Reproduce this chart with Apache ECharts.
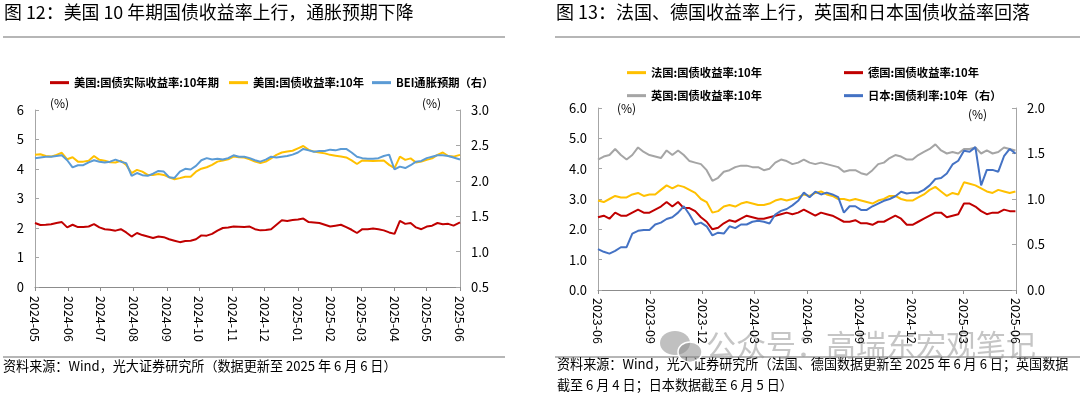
<!DOCTYPE html>
<html>
<head>
<meta charset="utf-8">
<script src="https://cdn.jsdelivr.net/npm/echarts@6/dist/echarts.min.js"></script>
<style>
html,body{margin:0;padding:0;background:#fff;}
#chart{width:1080px;height:396px;}
</style>
</head>
<body>
<div id="chart"></div>
<script>
// ---------- Figure 12 (left) ----------
const leftDates = ['2024-05-06','2024-05-11','2024-05-16','2024-05-21','2024-05-26','2024-05-31','2024-06-05','2024-06-10','2024-06-15','2024-06-20',
'2024-06-25','2024-06-30','2024-07-05','2024-07-10','2024-07-15','2024-07-20','2024-07-25','2024-07-30','2024-08-04','2024-08-09',
'2024-08-14','2024-08-19','2024-08-24','2024-08-29','2024-09-03','2024-09-08','2024-09-13','2024-09-18','2024-09-23','2024-09-28',
'2024-10-03','2024-10-08','2024-10-13','2024-10-18','2024-10-23','2024-10-28','2024-11-02','2024-11-07','2024-11-12','2024-11-17',
'2024-11-22','2024-11-27','2024-12-02','2024-12-07','2024-12-12','2024-12-17','2024-12-22','2024-12-27','2025-01-01','2025-01-06',
'2025-01-11','2025-01-16','2025-01-21','2025-01-26','2025-01-31','2025-02-05','2025-02-10','2025-02-15','2025-02-20','2025-02-25',
'2025-03-02','2025-03-07','2025-03-12','2025-03-17','2025-03-22','2025-03-27','2025-04-01','2025-04-06','2025-04-11','2025-04-16',
'2025-04-21','2025-04-26','2025-05-01','2025-05-06','2025-05-11','2025-05-16','2025-05-21','2025-05-26','2025-05-31','2025-06-06'];
const usRealYield = [2.17,2.10,2.11,2.13,2.17,2.20,2.02,2.11,2.03,2.03,
2.05,2.13,2.02,1.96,1.94,1.91,1.96,1.85,1.71,1.83,
1.76,1.71,1.66,1.71,1.69,1.62,1.57,1.52,1.56,1.57,
1.62,1.75,1.74,1.80,1.91,2.00,2.02,2.05,2.04,2.03,
2.05,1.96,1.92,1.93,1.96,2.11,2.26,2.24,2.27,2.29,
2.32,2.20,2.19,2.17,2.11,2.05,2.08,2.11,2.03,1.94,
1.83,1.96,1.96,1.98,1.96,1.92,1.85,1.80,2.24,2.14,
2.17,2.02,1.96,2.05,2.08,2.17,2.13,2.14,2.08,2.19];
const usNominal = [4.48,4.50,4.44,4.42,4.48,4.55,4.33,4.40,4.25,4.25,
4.28,4.44,4.31,4.28,4.23,4.22,4.28,4.14,3.86,3.97,
3.91,3.80,3.80,3.83,3.80,3.72,3.65,3.69,3.74,3.74,
3.91,4.01,4.06,4.14,4.25,4.29,4.33,4.42,4.40,4.39,
4.33,4.25,4.20,4.25,4.36,4.48,4.56,4.59,4.62,4.70,
4.78,4.65,4.59,4.56,4.53,4.48,4.45,4.42,4.39,4.29,
4.17,4.29,4.28,4.27,4.28,4.29,4.14,4.03,4.42,4.31,
4.36,4.22,4.25,4.31,4.36,4.48,4.56,4.44,4.42,4.48];
const beiRight = [2.32,2.33,2.34,2.34,2.35,2.36,2.29,2.19,2.22,2.22,
2.26,2.29,2.27,2.26,2.27,2.30,2.27,2.25,2.07,2.11,
2.08,2.07,2.10,2.14,2.13,2.05,2.04,2.13,2.17,2.16,
2.21,2.29,2.32,2.30,2.31,2.30,2.32,2.36,2.34,2.34,
2.32,2.29,2.27,2.30,2.34,2.33,2.34,2.35,2.37,2.40,
2.45,2.43,2.41,2.42,2.42,2.44,2.43,2.45,2.45,2.40,
2.34,2.32,2.31,2.31,2.32,2.35,2.37,2.16,2.20,2.18,
2.22,2.27,2.28,2.32,2.34,2.36,2.36,2.35,2.33,2.30];
const leftTicks = ['2024-05-06','2024-06-06','2024-07-06','2024-08-06','2024-09-06','2024-10-06','2024-11-06','2024-12-06',
'2025-01-06','2025-02-06','2025-03-06','2025-04-06','2025-05-06','2025-06-06'];

// ---------- Figure 13 (right) ----------
const rightDates = ['2023-06-06','2023-06-16','2023-06-26','2023-07-06','2023-07-16','2023-07-26','2023-08-05','2023-08-15','2023-08-25','2023-09-04',
'2023-09-14','2023-09-24','2023-10-04','2023-10-14','2023-10-24','2023-11-03','2023-11-13','2023-11-23','2023-12-03','2023-12-13',
'2023-12-23','2024-01-02','2024-01-12','2024-01-22','2024-02-01','2024-02-11','2024-02-21','2024-03-02','2024-03-12','2024-03-22',
'2024-04-01','2024-04-11','2024-04-21','2024-05-01','2024-05-11','2024-05-21','2024-05-31','2024-06-10','2024-06-20','2024-06-30',
'2024-07-10','2024-07-20','2024-07-30','2024-08-09','2024-08-19','2024-08-29','2024-09-08','2024-09-18','2024-09-28','2024-10-08',
'2024-10-18','2024-10-28','2024-11-07','2024-11-17','2024-11-27','2024-12-07','2024-12-17','2024-12-27','2025-01-06','2025-01-16',
'2025-01-26','2025-02-05','2025-02-15','2025-02-25','2025-03-07','2025-03-17','2025-03-27','2025-04-06','2025-04-16','2025-04-26',
'2025-05-06','2025-05-16','2025-05-26','2025-06-05'];
const franceYield = [2.95,2.90,3.00,3.10,3.05,3.05,3.15,3.20,3.10,3.15,
3.15,3.30,3.45,3.35,3.45,3.40,3.30,3.20,3.00,2.90,
2.55,2.60,2.75,2.80,2.75,2.85,2.90,2.85,2.80,2.80,
2.85,2.95,3.00,2.95,3.00,3.05,3.15,3.10,3.20,3.25,
3.15,3.10,3.00,3.00,2.95,3.00,2.95,2.90,2.85,2.95,
3.00,3.10,3.10,3.00,2.95,2.95,3.05,3.15,3.30,3.40,
3.25,3.10,3.20,3.15,3.55,3.50,3.45,3.35,3.25,3.20,
3.30,3.25,3.20,3.25];
const germanyYield = [2.40,2.45,2.35,2.55,2.45,2.45,2.55,2.65,2.55,2.55,
2.65,2.75,2.90,2.75,2.90,2.70,2.70,2.60,2.40,2.25,
2.00,2.05,2.20,2.30,2.25,2.35,2.45,2.40,2.35,2.35,
2.40,2.45,2.50,2.55,2.50,2.55,2.65,2.55,2.45,2.55,
2.50,2.45,2.35,2.25,2.25,2.30,2.20,2.20,2.15,2.25,
2.25,2.35,2.45,2.35,2.15,2.15,2.25,2.35,2.45,2.55,
2.55,2.40,2.45,2.50,2.85,2.85,2.75,2.60,2.50,2.55,
2.55,2.65,2.60,2.60];
const ukYield = [4.30,4.40,4.45,4.65,4.45,4.30,4.45,4.70,4.55,4.45,
4.40,4.35,4.60,4.45,4.60,4.45,4.25,4.20,4.15,3.95,
3.60,3.70,3.90,3.95,4.05,4.10,4.10,4.05,4.05,3.95,
4.00,4.20,4.30,4.25,4.15,4.20,4.30,4.20,4.15,4.20,
4.15,4.10,4.05,3.90,3.95,3.95,3.85,3.80,3.95,4.15,
4.20,4.35,4.45,4.40,4.30,4.30,4.45,4.55,4.65,4.80,
4.60,4.50,4.55,4.50,4.65,4.65,4.70,4.50,4.60,4.50,
4.55,4.70,4.65,4.60];
const japanYieldRight = [0.45,0.42,0.40,0.43,0.47,0.47,0.62,0.65,0.66,0.66,
0.72,0.74,0.78,0.80,0.85,0.92,0.83,0.72,0.74,0.70,
0.60,0.63,0.62,0.70,0.68,0.72,0.72,0.75,0.76,0.75,
0.73,0.83,0.87,0.89,0.93,0.98,1.07,1.02,1.08,1.05,
1.07,1.05,1.02,0.85,0.92,0.92,0.88,0.88,0.92,0.95,
0.98,1.00,1.03,1.08,1.06,1.07,1.07,1.10,1.15,1.22,
1.23,1.28,1.38,1.42,1.53,1.52,1.57,1.15,1.32,1.32,
1.30,1.47,1.55,1.50];
const rightTicks = ['2023-06-06','2023-09-06','2023-12-06','2024-03-06','2024-06-06','2024-09-06','2024-12-06','2025-03-06','2025-06-06'];

const leftYTicks = {min:0, max:6, interval:1};
const leftY2Ticks = {min:0.5, max:3.0, interval:0.5};
const rightYTicks = {min:0, max:6, interval:1};
const rightY2Ticks = {min:0, max:2, interval:0.5};

// ---------- helpers ----------
function ts(s){ const p = s.split('-').map(Number); return Date.UTC(p[0], p[1]-1, p[2]); }
function pairs(dates, vals){ return dates.map((d,i)=>[ts(d), vals[i]]); }
function ym(v){ const d = new Date(v); const m = d.getUTCMonth()+1; return d.getUTCFullYear() + '-' + (m<10?'0':'') + m; }

const FONT = '"Noto Sans CJK SC","Noto Sans",sans-serif';
const AX = '#a6a6a6';

function xAxisCfg(gridIndex, ticks, margin){
  const tv = ticks.map(ts);
  return {
    type:'value', gridIndex, min: tv[0], max: tv[tv.length-1], scale:true,
    axisLine:{show:true, onZero:false, lineStyle:{color:'#8c8c8c', width:1}},
    axisTick:{show:true, customValues: tv, length:4, inside:false, lineStyle:{color:'#8c8c8c'}},
    axisLabel:{show:true, customValues: tv, rotate:-90, formatter: ym, color:'#000', fontSize:12.5, fontFamily:FONT, margin},
    splitLine:{show:false}
  };
}
function yAxisCfg(gridIndex, t, pos, dec){
  return {
    type:'value', gridIndex, position:pos, min:t.min, max:t.max, interval:t.interval,
    axisLine:{show:true, onZero:false, lineStyle:{color:AX, width:1}},
    axisTick:{show:true, inside:true, length:4, lineStyle:{color:AX}},
    axisLabel:{color:'#000', fontSize:13, fontFamily:FONT, margin:11, formatter: v => dec ? v.toFixed(1) : String(v)},
    splitLine:{show:false}
  };
}
function lineSeries(name, xi, yi, data, color){
  return {name, type:'line', xAxisIndex:xi, yAxisIndex:yi, data, showSymbol:false, symbol:'none',
    lineStyle:{color, width:2}, itemStyle:{color}, animation:false, emphasis:{disabled:true}};
}
function legendItem(name, left, centerY){
  return {data:[name], left, top:centerY-8, icon:'rect', itemWidth:19, itemHeight:3, itemGap:0,
    textStyle:{fontSize:11.3, fontWeight:'bold', color:'#000', fontFamily:FONT}, selectedMode:false};
}
function txt(x, y, text, size){
  return {type:'text', left:x, top:y, silent:true, style:{text, fontSize:size, fontFamily:FONT, fill:'#000'}};
}

const chart = echarts.init(document.getElementById('chart'), null, {renderer:'canvas'});
const RED = '#C00000', YEL = '#FFC000', BEIBLUE = '#5B9BD5', GRAY = '#A5A5A5', JPBLUE = '#4472C4';

chart.setOption({
  animation:false,
  backgroundColor:'#fff',
  grid:[
    {left:35, top:110, width:425, height:177, containLabel:false},
    {left:598, top:108, width:418, height:182, containLabel:false}
  ],
  xAxis:[ xAxisCfg(0, leftTicks, 9), xAxisCfg(1, rightTicks, 8) ],
  yAxis:[
    yAxisCfg(0, leftYTicks, 'left', false),
    yAxisCfg(0, leftY2Ticks, 'right', true),
    yAxisCfg(1, rightYTicks, 'left', true),
    yAxisCfg(1, rightY2Ticks, 'right', true)
  ],
  legend:[
    legendItem('美国:国债实际收益率:10年期', 45, 80),
    legendItem('美国:国债收益率:10年', 224, 80),
    legendItem('BEI通胀预期（右）', 367, 80),
    legendItem('法国:国债收益率:10年', 622, 70),
    legendItem('德国:国债收益率:10年', 839, 70),
    legendItem('英国:国债收益率:10年', 622, 93),
    legendItem('日本:国债利率:10年（右）', 839, 93)
  ],
  series:[
    lineSeries('美国:国债实际收益率:10年期', 0, 0, pairs(leftDates, usRealYield), RED),
    lineSeries('美国:国债收益率:10年', 0, 0, pairs(leftDates, usNominal), YEL),
    lineSeries('BEI通胀预期（右）', 0, 1, pairs(leftDates, beiRight), BEIBLUE),
    lineSeries('英国:国债收益率:10年', 1, 2, pairs(rightDates, ukYield), GRAY),
    lineSeries('法国:国债收益率:10年', 1, 2, pairs(rightDates, franceYield), YEL),
    lineSeries('德国:国债收益率:10年', 1, 2, pairs(rightDates, germanyYield), RED),
    lineSeries('日本:国债利率:10年（右）', 1, 3, pairs(rightDates, japanYieldRight), JPBLUE)
  ],
  graphic:[
    txt(4, 3, '图 12：美国 10 年期国债收益率上行，通胀预期下降', 17.9),
    txt(556, 3, '图 13：法国、德国收益率上行，英国和日本国债收益率回落', 18),
    {type:'rect', silent:true, shape:{x:3, y:36.5, width:502, height:1}, style:{fill:'#6e6e6e'}},
    {type:'rect', silent:true, shape:{x:555, y:36.5, width:525, height:1}, style:{fill:'#6e6e6e'}},
    txt(50, 97, '(%)', 12),
    txt(422, 97, '(%)', 12),
    txt(617, 102, '(%)', 12),
    txt(968, 108, '(%)', 12),
    {type:'rect', silent:true, shape:{x:3, y:356.5, width:502, height:1}, style:{fill:'#6e6e6e'}},
    {type:'rect', silent:true, shape:{x:555, y:356.5, width:525, height:1}, style:{fill:'#6e6e6e'}},
    txt(3, 359, '资料来源：Wind，光大证券研究所（数据更新至 2025 年 6 月 6 日）', 13.1),
    txt(557, 357, '资料来源：Wind，光大证券研究所（法国、德国数据更新至 2025 年 6 月 6 日；英国数据', 13.1),
    txt(557, 378, '截至 6 月 4 日；日本数据截至 6 月 5 日）', 13.1),
    {type:'group', silent:true, z:100, children:[
      {type:'ellipse', shape:{cx:675, cy:343, rx:15, ry:12}, style:{fill:'rgba(140,140,140,0.55)'}},
      {type:'ellipse', shape:{cx:690, cy:352, rx:12, ry:10}, style:{fill:'rgba(140,140,140,0.55)', stroke:'#fff', lineWidth:1.5}},
      {type:'text', left:706, top:330, style:{text:'公众号：高瑞东宏观笔记', fontSize:30, fontFamily:FONT, fill:'rgba(150,150,150,0.55)'}}
    ]}
  ]
});
</script>
</body>
</html>
